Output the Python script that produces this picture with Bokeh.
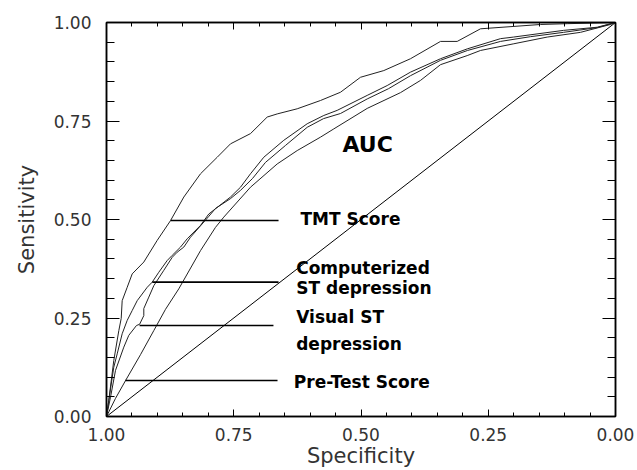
from bokeh.plotting import figure
from bokeh.models import Range1d, LinearAxis, FixedTicker, NumeralTickFormatter, Label
from bokeh.embed import file_html
from bokeh.resources import INLINE

# ---- data (specificity, sensitivity) ----
tmt_spec = [1.000, 0.9955, 0.9857, 0.9758, 0.9711, 0.9692, 0.9593, 0.9495, 0.9267, 0.9004,
            0.8743, 0.8481, 0.8153, 0.7825, 0.7564, 0.7171, 0.6843, 0.6646, 0.6253, 0.5796,
            0.5403, 0.5010, 0.4552, 0.4028, 0.3438, 0.3110, 0.2652, 0.2004, 0.1473, 0.0949, 0.0]
tmt_sens = [0.000, 0.041, 0.142, 0.218, 0.249, 0.294, 0.328, 0.362, 0.392, 0.447,
            0.497, 0.557, 0.616, 0.658, 0.692, 0.718, 0.760, 0.768, 0.781, 0.802,
            0.823, 0.861, 0.878, 0.908, 0.952, 0.952, 0.984, 0.990, 0.995, 0.997, 1.0]

comp_spec = [1.000, 0.9941, 0.9857, 0.9790, 0.9692, 0.9593, 0.9495, 0.9397, 0.9200, 0.9102,
             0.8973, 0.8807, 0.8709, 0.8546, 0.8415, 0.8153, 0.7990, 0.7564, 0.7367, 0.7171,
             0.6910, 0.6517, 0.6057, 0.5731, 0.5468, 0.4878, 0.4485, 0.4028, 0.3438, 0.2914,
             0.2259, 0.2004, 0.1022, 0.0360, 0.0]
comp_sens = [0.000, 0.053, 0.125, 0.159, 0.210, 0.244, 0.269, 0.294, 0.328, 0.341,
             0.366, 0.396, 0.409, 0.430, 0.451, 0.485, 0.514, 0.557, 0.582, 0.616,
             0.658, 0.701, 0.743, 0.764, 0.777, 0.815, 0.840, 0.874, 0.908, 0.933,
             0.959, 0.963, 0.980, 0.988, 1.0]

vis_spec = [1.000, 0.9921, 0.9823, 0.9660, 0.9562, 0.9411, 0.9350, 0.9267, 0.9267, 0.9169,
            0.9071, 0.8874, 0.8709, 0.8611, 0.8481, 0.8350, 0.7990, 0.7859, 0.7564, 0.7367,
            0.7132, 0.6876, 0.6483, 0.6057, 0.5737, 0.5403, 0.4878, 0.4460, 0.4028, 0.3438,
            0.2908, 0.2259, 0.1670, 0.1022, 0.0360, 0.0]
vis_sens = [0.000, 0.049, 0.117, 0.176, 0.206, 0.231, 0.234, 0.256, 0.274, 0.303,
            0.332, 0.371, 0.404, 0.417, 0.430, 0.455, 0.508, 0.528, 0.553, 0.574,
            0.604, 0.645, 0.688, 0.734, 0.756, 0.769, 0.806, 0.832, 0.865, 0.904,
            0.929, 0.952, 0.964, 0.975, 0.987, 1.0]

pre_spec = [1.000, 0.9823, 0.9627, 0.9332, 0.9071, 0.8841, 0.8580, 0.8153, 0.7859, 0.7696,
            0.7171, 0.6646, 0.6253, 0.5796, 0.5534, 0.4878, 0.4224, 0.3831, 0.3438, 0.2914,
            0.2652, 0.1998, 0.1342, 0.0688, 0.0098, 0.0]
pre_sens = [0.000, 0.046, 0.091, 0.157, 0.218, 0.272, 0.324, 0.421, 0.480, 0.506,
            0.582, 0.641, 0.675, 0.709, 0.730, 0.782, 0.822, 0.853, 0.893, 0.916,
            0.929, 0.946, 0.963, 0.975, 0.995, 1.0]

# reference (chance) line
chance_spec = [1.0, 0.0]
chance_sens = [0.0, 1.0]

# pointer lines from each curve to its label
pointer_y = [0.4975, 0.341, 0.231, 0.0914]
pointer_x0 = [0.874, 0.910, 0.935, 0.963]
pointer_x1 = [0.662, 0.662, 0.672, 0.664]

tick_values = [0.0, 0.25, 0.50, 0.75, 1.0]
minor_values = [round(0.05 * i, 2) for i in range(21)]

p = figure(width=637, height=470, x_range=Range1d(1.0, 0.0), y_range=Range1d(0.0, 1.0),
           output_backend="svg", toolbar_location=None,
           min_border_left=106, min_border_right=22, min_border_top=22, min_border_bottom=54)
p.background_fill_color = "white"
p.border_fill_color = "white"
p.outline_line_color = "black"
p.outline_line_width = 1.5
p.xgrid.visible = False
p.ygrid.visible = False

bottom_axis = p.below[0]
left_axis = p.left[0]
top_axis = LinearAxis()
right_axis = LinearAxis()
p.add_layout(top_axis, "above")
p.add_layout(right_axis, "right")

for ax in [bottom_axis, top_axis]:
    ax.ticker = FixedTicker(ticks=tick_values, minor_ticks=minor_values)
    ax.major_tick_in = 7
    ax.major_tick_out = 0
    ax.minor_tick_in = 4
    ax.minor_tick_out = 0
for ax in [left_axis, right_axis]:
    ax.ticker = FixedTicker(ticks=tick_values, minor_ticks=minor_values)
    ax.major_tick_in = 13
    ax.major_tick_out = 0
    ax.minor_tick_in = 8
    ax.minor_tick_out = 0
for ax in [bottom_axis, top_axis, left_axis, right_axis]:
    ax.axis_line_color = "black"
    ax.axis_line_width = 1.5
    ax.major_tick_line_color = "black"
    ax.minor_tick_line_color = "black"
    ax.major_tick_line_width = 1
    ax.minor_tick_line_width = 1
    ax.formatter = NumeralTickFormatter(format="0.00")
    ax.major_label_text_font = "DejaVu Sans"
    ax.major_label_text_font_size = "17px"
    ax.major_label_text_color = "#333333"
    ax.axis_label_text_font = "DejaVu Sans"
    ax.axis_label_text_font_size = "21px"
    ax.axis_label_text_font_style = "normal"
    ax.axis_label_text_color = "#333333"

for ax in [top_axis, right_axis]:
    ax.major_label_text_font_size = "0px"
    ax.major_label_text_color = None
    ax.major_label_standoff = 0

bottom_axis.axis_label = "Specificity"
bottom_axis.major_label_standoff = 11
bottom_axis.axis_label_standoff = 0
left_axis.axis_label = "Sensitivity"
left_axis.major_label_standoff = 15
left_axis.axis_label_standoff = 12

p.line(chance_spec, chance_sens, line_color="black", line_width=1)
for xs, ys in [(tmt_spec, tmt_sens), (comp_spec, comp_sens), (vis_spec, vis_sens), (pre_spec, pre_sens)]:
    p.line(xs, ys, line_color="#222222", line_width=1)

p.segment(x0=pointer_x0, y0=pointer_y, x1=pointer_x1, y1=pointer_y, line_color="black", line_width=1.6)

labels = [
    ("AUC", 0.5363, 0.690, "22px"),
    ("TMT Score", 0.6189, 0.501, "17px"),
    ("Computerized", 0.6273, 0.378, "17px"),
    ("ST depression", 0.6273, 0.327, "17px"),
    ("Visual ST", 0.6273, 0.2525, "17px"),
    ("depression", 0.6273, 0.183, "17px"),
    ("Pre-Test Score", 0.632, 0.0888, "17px"),
]
for txt, lx, ly, fs in labels:
    p.add_layout(Label(x=lx, y=ly, text=txt, text_font="DejaVu Sans", text_font_style="bold",
                       text_font_size=fs, text_color="black", text_align="left",
                       text_baseline="middle"))

open("out.html", "w").write(file_html(p, INLINE))
